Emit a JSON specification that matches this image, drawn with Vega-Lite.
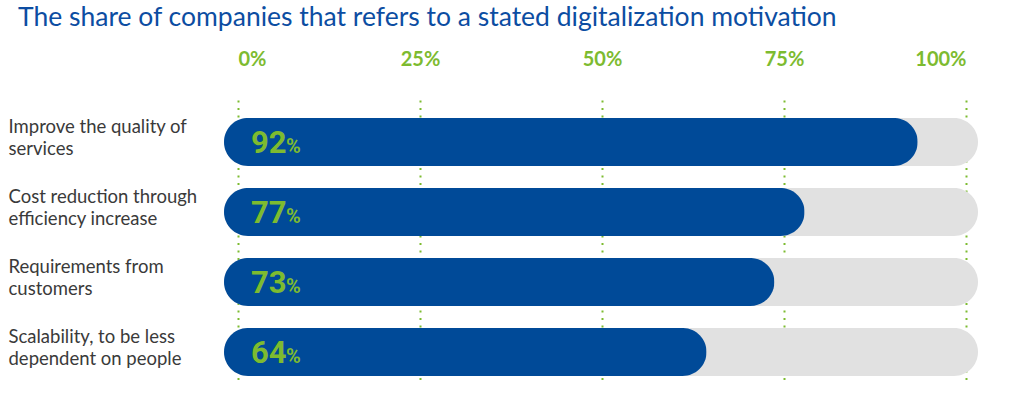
{
  "$schema": "https://vega.github.io/schema/vega-lite/v6.json",
  "width": 754,
  "height": 283,
  "autosize": {"type": "none"},
  "padding": {"left": 224, "top": 100, "right": 46, "bottom": 12},
  "background": "white",
  "title": {
    "text": "The share of companies that refers to a stated digitalization motivation",
    "anchor": "start",
    "frame": "group",
    "dx": -206,
    "offset": 18,
    "font": "Lato",
    "fontSize": 26.5,
    "fontWeight": "normal",
    "color": "#0c4da2"
  },
  "config": {"view": {"stroke": null}},
  "data": {
    "values": [
      {"motivation": "Improve the quality of|services", "share": 92},
      {"motivation": "Cost reduction through|efficiency increase", "share": 77},
      {"motivation": "Requirements from|customers", "share": 73},
      {"motivation": "Scalability, to be less|dependent on people", "share": 64}
    ]
  },
  "encoding": {
    "y": {
      "field": "motivation",
      "type": "nominal",
      "sort": null,
      "scale": {"paddingInner": 0.314, "paddingOuter": 0.178, "align": 0.72},
      "axis": {
        "title": null,
        "domain": false,
        "ticks": false,
        "labelExpr": "split(datum.label, '|')",
        "labelAlign": "left",
        "labelBaseline": "middle",
        "labelPadding": 216,
        "labelOffset": -15,
        "labelFont": "Lato",
        "labelFontSize": 18.5,
        "labelLineHeight": 22,
        "labelColor": "#3a3a3a",
        "labelLimit": 230
      }
    }
  },
  "resolve": {"scale": {"x": "independent"}, "axis": {"x": "independent"}},
  "layer": [
    {
      "mark": {"type": "rule", "opacity": 0},
      "encoding": {
        "x": {
          "datum": 0,
          "type": "quantitative",
          "scale": {"domain": [0, 100], "range": [14, 742]},
          "axis": {
            "orient": "top",
            "values": [0, 25, 50, 75, 100],
            "labelExpr": "datum.value + '%'",
            "title": null,
            "domain": false,
            "ticks": false,
            "labelPadding": 31,
            "labelFont": "Lato",
            "labelFontWeight": "bold",
            "labelFontSize": 20,
            "labelColor": "#7dbb30",
            "grid": true,
            "gridColor": "#7dbb30",
            "gridDash": [2, 5.5],
            "gridWidth": 2,
            "gridOpacity": 1
          }
        }
      }
    },
    {
      "mark": {"type": "bar", "color": "#e1e1e1", "cornerRadius": 24},
      "encoding": {
        "x": {"datum": 100, "type": "quantitative", "scale": {"domain": [0, 100], "range": [0, 754]}, "axis": null}
      }
    },
    {
      "mark": {"type": "bar", "color": "#004a98", "cornerRadius": 24},
      "encoding": {
        "x": {"field": "share", "type": "quantitative", "scale": {"domain": [0, 100], "range": [0, 754]}, "axis": null}
      }
    },
    {
      "mark": {"type": "text", "align": "left", "baseline": "alphabetic", "dx": 27, "dy": 11, "font": "Roboto", "fontWeight": "bold", "fontSize": 31, "color": "#7dbb30"},
      "encoding": {
        "x": {"datum": 0, "type": "quantitative", "scale": {"domain": [0, 100], "range": [0, 754]}, "axis": null},
        "text": {"field": "share", "type": "quantitative"}
      }
    },
    {
      "mark": {"type": "text", "align": "left", "baseline": "alphabetic", "dx": 62, "dy": 11, "font": "Roboto", "fontWeight": "bold", "fontSize": 20, "color": "#7dbb30", "text": "%"},
      "encoding": {
        "x": {"datum": 0, "type": "quantitative", "scale": {"domain": [0, 100], "range": [0, 754]}, "axis": null}
      }
    }
  ]
}
